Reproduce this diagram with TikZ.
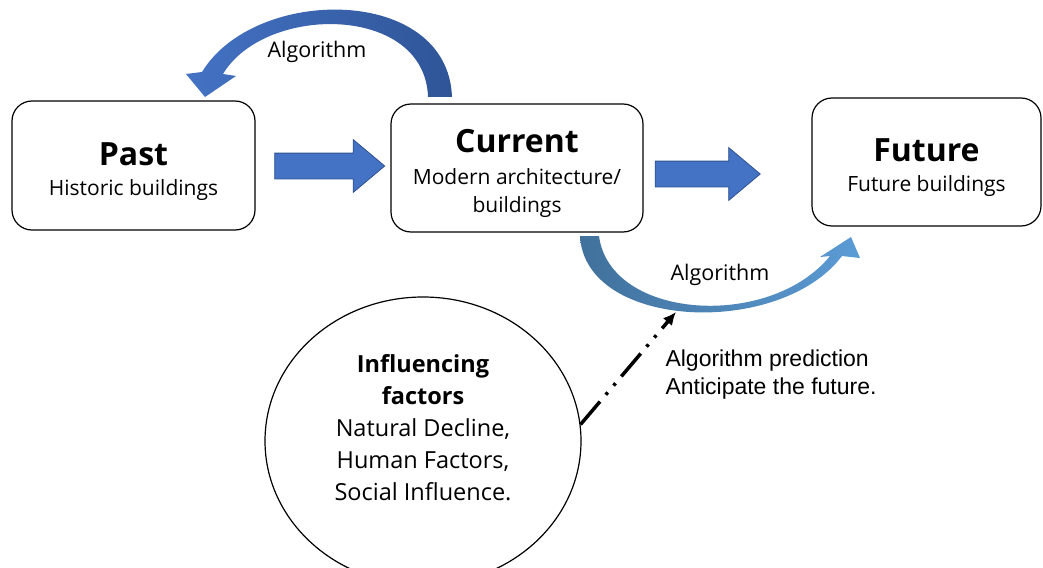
\documentclass[tikz,border=0pt]{standalone}
\usepackage{fontspec}
\setmainfont{Open Sans}
\newfontfamily\arialfont{Liberation Sans}
\usetikzlibrary{shapes.geometric,shapes.arrows,arrows.meta}
\definecolor{flowblue}{HTML}{4472C4}
\definecolor{flowedge}{HTML}{2F528F}
\definecolor{loopdark}{HTML}{2F5597}
\definecolor{predlight}{HTML}{5B9BD5}
\definecolor{preddark}{HTML}{41719C}
\newcommand{\stagename}[1]{\rule{0pt}{35pt}{\bfseries\fontsize{32}{36}\selectfont #1}}

\begin{document}
\begin{tikzpicture}[x=1pt,y=-1pt,
    stage/.style={draw,line width=1.2pt,rounded corners=20pt,align=center,inner sep=0pt,
                  font=\fontsize{21}{28}\selectfont},
    flow/.style={single arrow,draw=flowedge,fill=flowblue,line width=0.8pt,inner sep=0pt,
                 text height=12.5pt,text depth=12.5pt,minimum width=52pt,
                 single arrow head extend=13.5pt,single arrow tip angle=80},
    curvelabel/.style={font=\fontsize{21.5}{26}\selectfont}]
\useasboundingbox (0,0) rectangle (1043,567);
\clip (0,0) rectangle (1043,567);

% stages
\node[stage,minimum width=243pt,minimum height=129pt] (past) at (133.5,165.5)
  {\stagename{Past}\\[2pt]Historic buildings};
\node[stage,minimum width=252pt,minimum height=128pt] (current) at (517,168)
  {\stagename{Current}\\[4pt]Modern architecture/\\buildings};
\node[stage,minimum width=229pt,minimum height=128pt] (future) at (926.5,162)
  {\stagename{Future}\\[2pt]Future buildings};

% straight block arrows
\node[flow,minimum height=110pt] (pastcur) at (322,166) {};
\node[flow,minimum height=105pt] (curfut) at (700,174) {};

% algorithm back to the past
\shade[left color=flowblue,right color=loopdark]
  (428,97) -- (452,97) .. controls (448,-15) and (255,-15) .. (202,72)
  -- (186,74) -- (205,97) -- (236,76) -- (223,74)
  .. controls (265,4) and (425,4) .. (428,97) -- cycle;
\node[curvelabel] (algback) at (317,52) {Algorithm};

% algorithm towards the future
\shade[left color=preddark,right color=predlight]
  (580,236) -- (599,236) .. controls (610,320) and (770,330) .. (830,256)
  -- (820,257) -- (851,237) -- (860,258) -- (842,256)
  .. controls (780,338) and (585,330) .. (580,236) -- cycle;
\node[curvelabel] (algfwd) at (720,275) {Algorithm};
\coordinate (algtip) at (676,312);

% influencing factors
\node[ellipse,draw,line width=1.2pt,minimum width=316pt,minimum height=288pt] (circ) at (423,441) {};
\node[align=center,font=\fontsize{23.5}{32}\selectfont] (factors) at (423,428)
  {\textbf{Influencing}\\\textbf{factors}\\Natural Decline,\\Human Factors,\\Social Influence.};

\draw[line width=3.5pt,dash pattern=on 30pt off 9pt on 3pt off 9pt on 3pt off 9pt,
      -{Latex[length=13pt,width=12pt]}] (circ.6) -- (algtip);
\node[anchor=west,align=left,font=\arialfont\fontsize{23}{28}\selectfont] (pred) at (662,375)
  {Algorithm prediction\\Anticipate the future.};
\end{tikzpicture}
\end{document}
